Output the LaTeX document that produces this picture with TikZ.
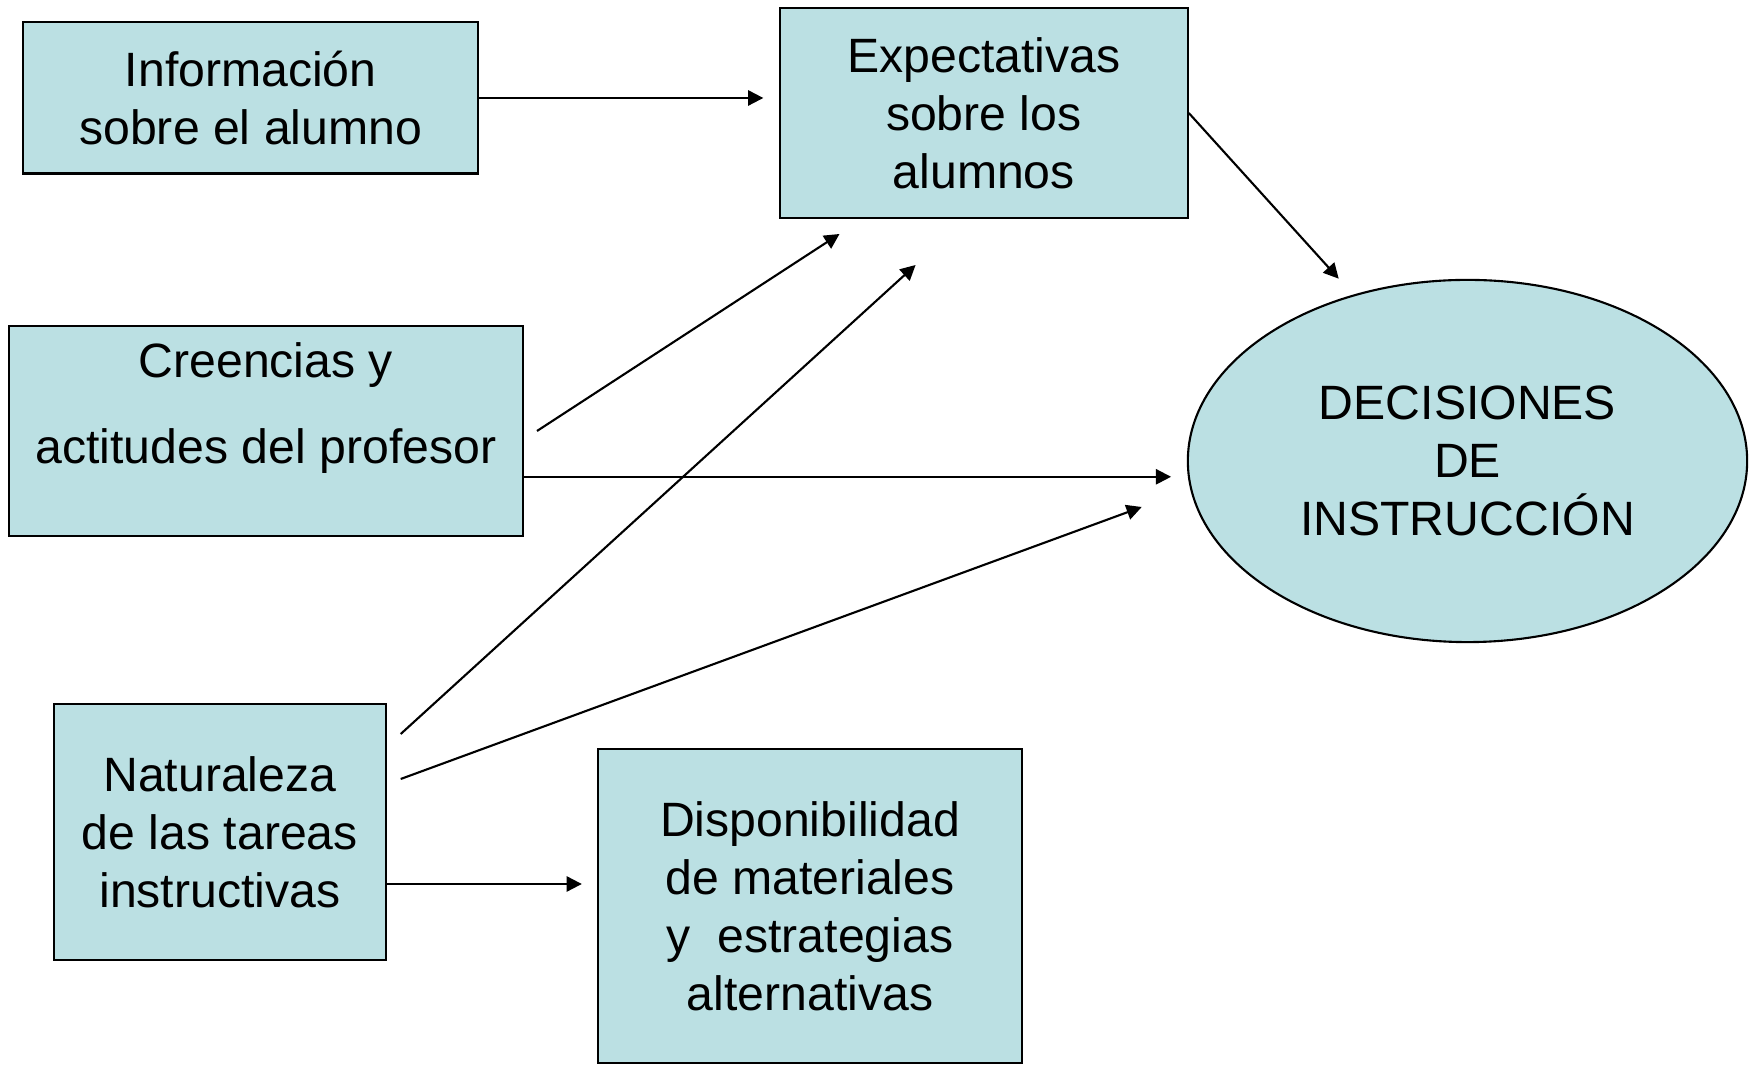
\documentclass[tikz,border=0pt]{standalone}
\usepackage{fontspec}
\setmainfont{Liberation Sans}
\usepackage{xcolor}
\usetikzlibrary{shapes.geometric, arrows.meta}
\definecolor{boxfill}{HTML}{BBE0E3}
\tikzstyle{block} = [rectangle, draw=black, fill=boxfill, line width=0.6pt, align=center, inner sep=0pt]
\tikzstyle{goal} = [ellipse, draw=black, fill=boxfill, line width=0.6pt, align=center, inner sep=0pt]
\tikzstyle{arrow} = [line width=0.6pt,-{Triangle[length=4.3pt,width=4.3pt]}]

\begin{document}
\begin{tikzpicture}[x=0.01cm, y=-0.01cm, font=\fontsize{13.7}{16.5}\selectfont]
	\useasboundingbox (0,0) rectangle (1755,1065);
	\node (info) [block, minimum width=4.545cm, minimum height=1.51cm] at (250.7,98) {Información\\sobre el alumno};
	\node (expect) [block, minimum width=4.076cm, minimum height=2.1cm] at (983.8,113) {Expectativas\\sobre los\\alumnos};
	\node (creen) [block, minimum width=5.137cm, minimum height=2.1cm] at (265.9,431) {Creencias y\\[8pt]actitudes del profesor\\[-5.5pt]\strut};
	\node (natur) [block, minimum width=3.323cm, minimum height=2.56cm] at (219.9,832) {Naturaleza\\de las tareas\\instructivas};
	\node (dispo) [block, minimum width=4.24cm, minimum height=3.14cm] at (810,906) {Disponibilidad\\de materiales\\y~ estrategias\\alternativas};
	\node (decis) [goal, minimum width=5.59cm, minimum height=3.62cm] at (1467.5,461) {DECISIONES\\DE\\INSTRUCCIÓN};

	% arrow ends
	\coordinate (c1) at (537,431);
	\coordinate (c2) at (522.7,476.8);
	\coordinate (n1) at (400.7,734);
	\coordinate (n2) at (400.7,779);
	\coordinate (n3) at (386,884);
	\coordinate (e1) at (1338.7,278.7);
	\coordinate (e2) at (839.5,234);
	\coordinate (e3) at (915.6,265);
	\coordinate (e5) at (1141.7,507);

	\draw [arrow, shorten >=0.155cm] (info.east) -- (info.east -| expect.west);
	\draw [arrow] (expect.east) -- (e1);
	\draw [arrow] (c1) -- (e2);
	\draw [arrow] (n1) -- (e3);
	\draw [arrow, shorten >=0.157cm] (c2) -- (c2 -| decis.west);
	\draw [arrow] (n2) -- (e5);
	\draw [arrow, shorten >=0.15cm] (n3) -- (n3 -| dispo.west);
\end{tikzpicture}
\end{document}
